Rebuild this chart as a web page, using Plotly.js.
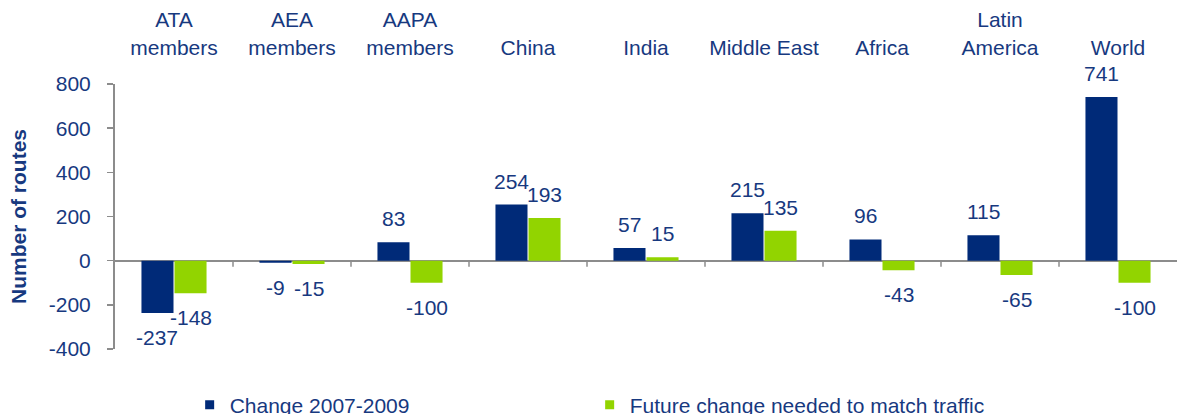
<!DOCTYPE html>
<html>
<head>
<meta charset="utf-8">
<script src="https://cdn.plot.ly/plotly-3.0.1.min.js"></script>
<style>html,body{margin:0;padding:0;background:#fff;} #chart{width:1177px;height:414px;}</style>
</head>
<body>
<div id="chart"></div>
<script>
var categories = ['ATA<br>members', 'AEA<br>members', 'AAPA<br>members', 'China', 'India', 'Middle East', 'Africa', 'Latin<br>America', 'World'];
var change0709 = [-237, -9, 83, 254, 57, 215, 96, 115, 741];
var futureChange = [-148, -15, -100, 193, 15, 135, -43, -65, -100];
var seriesNames = ['Change 2007-2009', 'Future change needed to match traffic'];
var yTicks = [-400, -200, 0, 200, 400, 600, 800];

var NAVY = '#002A78';
var GREEN = '#92D400';
var TXT = '#17397F';
var GRAY = '#8C8C8C';
var FONT = 'Liberation Sans, Arial, sans-serif';
var FS = 21;
var BARGAP = 0.44;

var traces = [
  {type: 'bar', x: categories, y: change0709, name: seriesNames[0], marker: {color: NAVY}, showlegend: false, hoverinfo: 'skip'},
  {type: 'bar', x: categories, y: futureChange, name: seriesNames[1], marker: {color: GREEN}, showlegend: false, hoverinfo: 'skip'},
  {type: 'scatter', mode: 'markers', x: [null], y: [null], name: seriesNames[0], marker: {symbol: 'square', size: 9, color: NAVY}},
  {type: 'scatter', mode: 'markers', x: [null], y: [null], name: seriesNames[1], marker: {symbol: 'square', size: 9, color: GREEN}}
];

var annotations = [];
var off = (1 - BARGAP) / 4;
[change0709, futureChange].forEach(function (arr, s) {
  arr.forEach(function (v, i) {
    annotations.push({
      xref: 'x', yref: 'y', x: i + (s === 0 ? -off : off), y: v,
      text: String(v), showarrow: false,
      yanchor: v >= 0 ? 'bottom' : 'top',
      yshift: v >= 0 ? 10 : -11,
      font: {family: FONT, size: FS, color: TXT}
    });
  });
});

var shapes = [];
for (var i = 0; i < categories.length - 1; i++) {
  shapes.push({type: 'line', xref: 'x', yref: 'y', x0: i + 0.5, x1: i + 0.5,
    ysizemode: 'pixel', yanchor: 0, y0: 0, y1: -6, line: {color: GRAY, width: 1.5}});
}

var layout = {
  width: 1177, height: 414,
  margin: {l: 115, r: 0, t: 84, b: 65, autoexpand: false},
  paper_bgcolor: '#fff', plot_bgcolor: '#fff',
  font: {family: FONT, size: FS, color: TXT},
  barmode: 'group', bargap: BARGAP, bargroupgap: 0.03,
  showlegend: true,
  legend: {orientation: 'h', x: 0.0703, xanchor: 'left', y: -0.134, yanchor: 'top',
    font: {family: FONT, size: FS, color: TXT}, entrywidth: 355, entrywidthmode: 'pixels',
    itemwidth: 30, tracegroupgap: 0},
  xaxis: {type: 'category', side: 'top', ticks: '', showline: false, showgrid: false,
    zeroline: false, range: [-0.5, categories.length - 0.5], tickfont: {family: FONT, size: FS, color: TXT},
    ticklabelstandoff: 24},
  yaxis: {range: [-400, 800], tickvals: yTicks, ticktext: yTicks.map(String), showgrid: false,
    showline: true, linecolor: GRAY, linewidth: 2, ticks: 'outside', ticklen: 6, tickcolor: GRAY, tickwidth: 1.5,
    zeroline: true, zerolinecolor: GRAY, zerolinewidth: 2,
    tickfont: {family: FONT, size: FS, color: TXT}, ticklabelstandoff: 12,
    title: {text: 'Number of routes', font: {family: FONT, size: 21, color: TXT, weight: 'bold'}, standoff: 16}},
  annotations: annotations,
  shapes: shapes
};

Plotly.newPlot('chart', traces, layout, {staticPlot: true, displayModeBar: false});
</script>
</body>
</html>
